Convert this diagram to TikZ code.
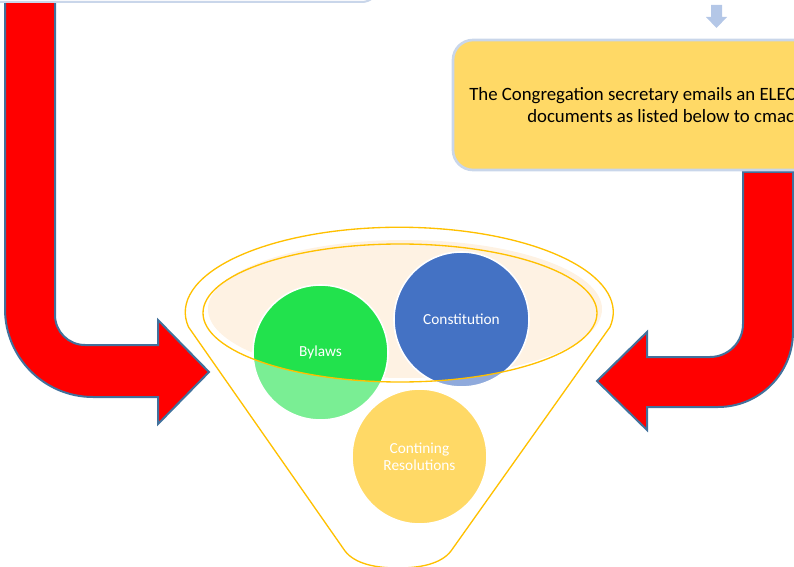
\documentclass[tikz,border=0pt]{standalone}
\usepackage{fontspec}
\setmainfont{Carlito}
\usetikzlibrary{calc}

\definecolor{boxyellow}{HTML}{FFD966}
\definecolor{boxedge}{HTML}{C9D6EA}
\definecolor{arrowedge}{HTML}{41719C}
\definecolor{funnelline}{HTML}{FFC000}
\definecolor{rimfill}{HTML}{FEF2E3}
\definecolor{lawgreen}{HTML}{22E24D}
\definecolor{lawblue}{HTML}{4472C4}
\definecolor{smallarrow}{HTML}{B4C7E7}

\tikzset{
  bentarrow/.style={fill=red, draw=arrowedge, line width=1.5pt, line join=miter},
  doccircle/.style={circle, minimum size=101.25pt, inner sep=0pt, draw=white, line width=1.2pt,
    text=white, font=\fontsize{11.5}{13}\selectfont, align=center},
  boxtext/.style={anchor=west, inner sep=0pt, font=\fontsize{14.1}{15}\selectfont},
}

\begin{document}
\begin{tikzpicture}[x=0.75pt, y=0.75pt]
\useasboundingbox (0,0) rectangle (794,-567);
\clip (0,0) rectangle (794,-567);

% bent arrows
\draw [bentarrow]
    (5,0) -- (5,-309) arc[start angle=180, end angle=270, radius=88]
    -- (158,-397) -- (158,-424) -- (209,-372) -- (158,-320) -- (158,-345)
    -- (85,-345) arc[start angle=270, end angle=180, radius=30]
    -- (55,0) -- cycle;
\draw [bentarrow]
    (793,-172) -- (793,-332) arc[start angle=0, end angle=-90, radius=75]
    -- (647,-407) -- (647,-430) -- (597,-381) -- (647,-332) -- (647,-357)
    -- (710,-357) arc[start angle=-90, end angle=0, radius=33]
    -- (743,-172) -- cycle;

% boxes
\draw [fill=white, draw=boxedge, line width=1.5pt, rounded corners=12]
    (-20,40) rectangle (378,-2);
\draw [fill=boxyellow, draw=boxedge, line width=2pt, rounded corners=15]
    (453,-40) rectangle (840,-170);
\node [boxtext] (line1) at (469,-96) {The Congregation secretary emails an ELEC};
\node [boxtext] (line2) at (527,-116) {documents as listed below to cmack};

% small arrow
\fill [smallarrow] (711,-5) -- (722,-5) -- (722,-17) -- (727,-17) -- (716.5,-28)
    -- (706,-17) -- (711,-17) -- cycle;

% funnel
\draw [funnelline, line width=1pt]
    (345,-551) .. controls (355,-564) and (376,-568) .. (398,-568)
    .. controls (420,-568) and (441,-564) .. (451,-551)
    -- (610,-327) arc[start angle=-10, end angle=190, x radius=214, y radius=85]
    -- cycle;
\fill [rimfill] (405,-309) ellipse [x radius=197, y radius=69];

% documents
\begin{scope}[opacity=0.6]
  \fill [lawgreen] (320.5,-352.5) circle (67.5);
  \fill [lawblue] (461.5,-319.5) circle (67.5);
\end{scope}
\begin{scope}
  \clip (400,-313) ellipse [x radius=197, y radius=69];
  \fill [lawgreen] (320.5,-352.5) circle (67.5);
  \fill [lawblue] (461.5,-319.5) circle (67.5);
\end{scope}
\node [doccircle] (bylaws) at (320.5,-352.5) {Bylaws};
\node [doccircle] (constitution) at (461.5,-319.5) {Constitution};
\draw [funnelline, line width=1pt] (400,-313) ellipse [x radius=197, y radius=69];
\node [doccircle, fill=boxyellow] (resolutions) at (419.5,-456.5) {Contining\\Resolutions};

\end{tikzpicture}
\end{document}
